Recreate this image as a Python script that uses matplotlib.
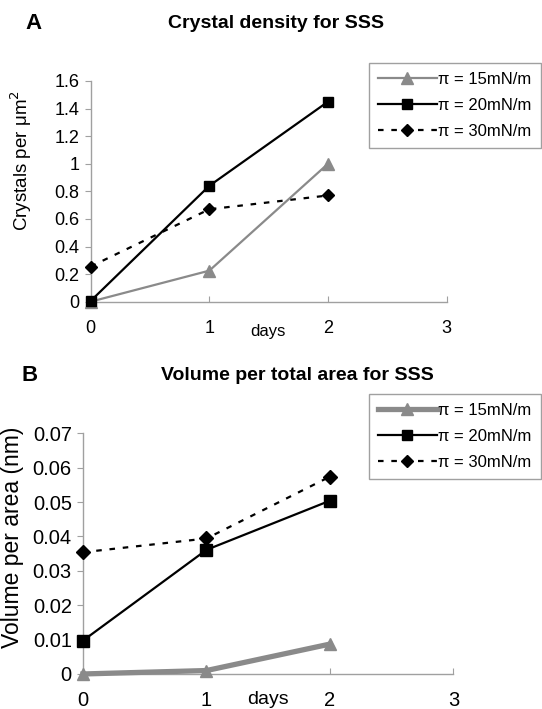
import matplotlib
matplotlib.use('Agg')
import matplotlib.pyplot as plt
from matplotlib.lines import Line2D

plt.rcParams['font.family'] = ['Liberation Sans', 'DejaVu Sans']

# data
days = [0, 1, 2]
labels = ['π = 15mN/m', 'π = 20mN/m', 'π = 30mN/m']

# A: crystal density
density_15 = [0.0, 0.225, 1.0]
density_20 = [0.005, 0.84, 1.45]
density_30 = [0.255, 0.67, 0.77]

# B: volume per area
volume_15 = [0.0, 0.001, 0.0087]
volume_20 = [0.0097, 0.0361, 0.0504]
volume_30 = [0.0354, 0.0394, 0.0574]

gray = '#8a8a8a'
spine = '#a0a0a0'

fig = plt.figure(figsize=(5.42, 7.09), dpi=100)


def style_axes(ax, tick_fs, xpad):
    for s in ['top', 'right']:
        ax.spines[s].set_visible(False)
    for s in ['left', 'bottom']:
        ax.spines[s].set_color(spine)
        ax.spines[s].set_linewidth(1.0)
    ax.set_xlim(0, 3)
    ax.set_xticks([0, 1, 2, 3])
    ax.tick_params(axis='x', direction='in', length=4, color=spine,
                   labelsize=tick_fs, pad=xpad)
    ax.tick_params(axis='y', direction='out', length=4, color=spine,
                   labelsize=tick_fs, pad=4)


def draw_series(ax, ys, lw15, ms_scale):
    a, b, c = ys
    ax.plot(days, a, color=gray, lw=lw15, marker='^', ms=8 * ms_scale,
            clip_on=False, zorder=3)
    ax.plot(days, b, color='black', lw=1.6, marker='s', ms=7.5 * ms_scale,
            clip_on=False, zorder=4)
    ax.plot(days, c, color='black', lw=1.6, ls=(0, (2.5, 3.5)), marker='D',
            ms=6.5 * ms_scale, clip_on=False, zorder=3)


def add_legend(bbox, lw15):
    handles = [
        Line2D([], [], color=gray, lw=lw15, marker='^', ms=8),
        Line2D([], [], color='black', lw=1.6, marker='s', ms=7.5),
        Line2D([], [], color='black', lw=1.6, ls=(0, (2.5, 3.5)), marker='D', ms=6.5),
    ]
    leg = fig.legend(handles, labels, loc='upper left', bbox_to_anchor=bbox,
                     bbox_transform=fig.transFigure, fontsize=12,
                     handlelength=3.5, handletextpad=0.1, labelspacing=0.65,
                     borderpad=0.55, fancybox=False, framealpha=1,
                     edgecolor=spine, borderaxespad=0)
    leg.get_frame().set_linewidth(1.0)


# ---- panel A
axA = fig.add_axes([0.1672, 0.5745, 0.657, 0.3113])
draw_series(axA, (density_15, density_20, density_30), 1.6, 1.0)
axA.set_ylim(0, 1.6)
axA.set_yticks([0, 0.2, 0.4, 0.6, 0.8, 1, 1.2, 1.4, 1.6])
axA.set_yticklabels(['0', '0.2', '0.4', '0.6', '0.8', '1', '1.2', '1.4', '1.6'])
style_axes(axA, 13, 13)
axA.set_ylabel('Crystals per μm$^2$', fontsize=13.5)
axA.yaxis.set_label_coords(-0.158, 0.6375)
axA.text(0.498, -0.136, 'days', transform=axA.transAxes, ha='center',
         va='center', fontsize=12)
fig.text(0.51, 0.967, 'Crystal density for SSS', ha='center', va='center',
         fontsize=14, fontweight='bold')
fig.text(0.061, 0.967, 'A', ha='center', va='center', fontsize=16,
         fontweight='bold')
add_legend((0.681, 0.911), 1.6)

# ---- panel B
axB = fig.add_axes([0.1531, 0.0494, 0.6836, 0.3395])
draw_series(axB, (volume_15, volume_20, volume_30), 3.8, 1.1)
axB.set_ylim(0, 0.07)
axB.set_yticks([0, 0.01, 0.02, 0.03, 0.04, 0.05, 0.06, 0.07])
axB.set_yticklabels(['0', '0.01', '0.02', '0.03', '0.04', '0.05', '0.06', '0.07'])
style_axes(axB, 14.5, 12)
axB.set_ylabel('Volume per area (nm)', fontsize=16.5)
axB.yaxis.set_label_coords(-0.16, 0.567)
axB.text(0.499, -0.108, 'days', transform=axB.transAxes, ha='center',
         va='center', fontsize=14)
fig.text(0.549, 0.471, 'Volume per total area for SSS', ha='center',
         va='center', fontsize=14, fontweight='bold')
fig.text(0.054, 0.471, 'B', ha='center', va='center', fontsize=16,
         fontweight='bold')
add_legend((0.681, 0.4443), 3.8)

fig.savefig('out.png', dpi=100)
